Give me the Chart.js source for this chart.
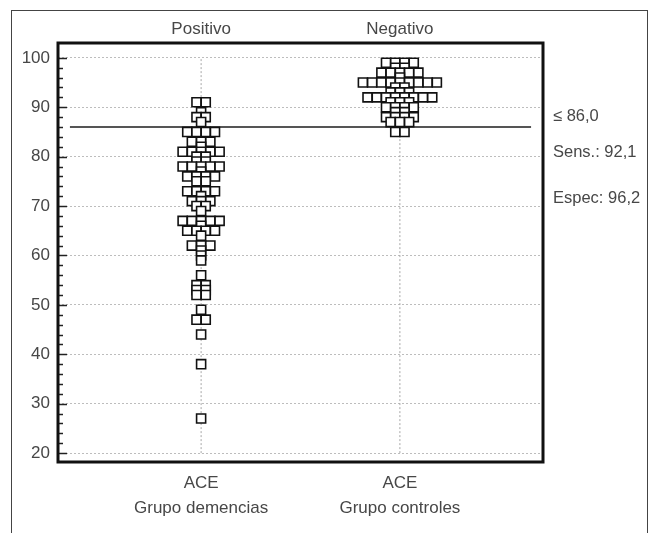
<!DOCTYPE html>
<html><head><meta charset="utf-8">
<script src="https://cdn.jsdelivr.net/npm/chart.js@4.4.0/dist/chart.umd.min.js"></script>
<style>
html,body{margin:0;padding:0;background:#fff;overflow:hidden;width:660px;height:533px;}
#frame{position:absolute;left:11px;top:10px;width:637px;height:600px;border:1px solid #444;box-sizing:border-box;}
canvas{position:absolute;left:0;top:0;}
</style></head><body>
<div id="frame"></div>
<canvas id="c" width="660" height="533"></canvas>
<script>
// ---- data ----
const groups = ['Positivo', 'Negativo'];
const groupLabels = [['ACE', 'Grupo demencias'], ['ACE', 'Grupo controles']];
const positivoValues = [91,91,89,88,88,87,85,85,85,85,83,83,83,82,81,81,81,81,81,80,80,79,79,
  78,78,78,78,78,77,76,76,76,76,75,75,73,73,73,73,72,71,71,71,70,70,69,67,67,67,67,67,66,
  65,65,65,65,64,62,62,62,61,60,59,56,54,54,53,53,52,52,49,47,47,44,38,27];
const negativoValues = [99,99,99,99,98,98,97,97,97,97,97,96,95,95,95,95,95,95,95,95,95,94,94,
  93,93,93,92,92,92,92,92,92,92,92,91,91,91,90,90,90,90,89,89,88,88,88,88,87,87,87,85,85];
const threshold = 86;
const annotations = ['\u2264 86,0', 'Sens.: 92,1', 'Espec: 96,2'];
const yTicks = [20, 30, 40, 50, 60, 70, 80, 90, 100];

// ---- layout helpers ----
const X_MIN = -0.72, X_MAX = 1.72;
const STEP = 0.0465; // horizontal spacing of stacked dots (category units)
function swarm(values, center) {
  const counts = new Map();
  values.forEach(v => counts.set(v, (counts.get(v) || 0) + 1));
  const pts = [];
  counts.forEach((n, v) => {
    for (let j = 0; j < n; j++) pts.push({ x: center + (j - (n - 1) / 2) * STEP, y: v });
  });
  return pts;
}
const FONT = '"Liberation Sans", Arial, sans-serif';
const TXT = '#474747';

const pointStyle = {
  type: 'scatter', pointStyle: 'rect', pointRadius: 6.4, pointBorderWidth: 1.6,
  pointBorderColor: '#111', pointBackgroundColor: '#fff', order: 0
};
const vline = (c) => ({
  type: 'line', data: [{ x: c, y: yTicks[0] }, { x: c, y: yTicks[yTicks.length - 1] }],
  borderColor: '#a8a8a8', borderWidth: 1, borderDash: [2, 2], pointRadius: 0, order: 3
});

const extras = {
  id: 'extras',
  afterDraw(chart) {
    const { ctx, chartArea: a, scales: { y } } = chart;
    ctx.save();
    ctx.strokeStyle = '#222'; ctx.lineWidth = 1.5;
    for (let v = yTicks[0]; v <= yTicks[yTicks.length - 1]; v += 2) {
      const py = Math.round(y.getPixelForValue(v)) + 0.5;
      const len = v % 10 === 0 ? 9 : 5;
      ctx.beginPath(); ctx.moveTo(a.left, py); ctx.lineTo(a.left + len, py); ctx.stroke();
    }
    ctx.lineWidth = 3; ctx.strokeStyle = '#111';
    ctx.strokeRect(a.left, a.top, a.right - a.left, a.bottom - a.top);
    ctx.fillStyle = TXT; ctx.font = '16.5px ' + FONT;
    ctx.textBaseline = 'middle'; ctx.textAlign = 'left';
    const ty = y.getPixelForValue(threshold);
    const offs = [-11, 25, 71];
    annotations.forEach((t, i) => ctx.fillText(t, a.right + 10, ty + offs[i]));
    ctx.restore();
  }
};

new Chart(document.getElementById('c'), {
  data: {
    datasets: [
      Object.assign({ data: swarm(positivoValues, 0) }, pointStyle),
      Object.assign({ data: swarm(negativoValues, 1) }, pointStyle),
      {
        type: 'line', data: [{ x: X_MIN + 0.06, y: threshold }, { x: X_MAX - 0.06, y: threshold }],
        borderColor: '#555', borderWidth: 2, pointRadius: 0, order: 1
      },
      vline(0), vline(1)
    ]
  },
  options: {
    responsive: false, animation: false, events: [],
    layout: { padding: { left: 0, right: 117, top: 0, bottom: 0 } },
    plugins: { legend: { display: false }, tooltip: { enabled: false } },
    scales: {
      x: {
        type: 'linear', position: 'bottom', min: X_MIN, max: X_MAX,
        afterBuildTicks: s => { s.ticks = [{ value: 0 }, { value: 1 }]; },
        afterFit: s => { s.height = 71; },
        ticks: { callback: v => groupLabels[v], color: TXT, font: { family: FONT, size: 17, lineHeight: 1.45 }, padding: 9, maxRotation: 0, autoSkip: false },
        grid: { display: false, drawTicks: false }, border: { display: false }
      },
      x2: {
        type: 'linear', position: 'top', min: X_MIN, max: X_MAX,
        afterBuildTicks: s => { s.ticks = [{ value: 0 }, { value: 1 }]; },
        afterFit: s => { s.height = 43; },
        ticks: { callback: v => groups[v], color: TXT, font: { family: FONT, size: 17, lineHeight: 1.2 }, padding: 3, maxRotation: 0, autoSkip: false },
        grid: { display: false, drawTicks: false }, border: { display: false }
      },
      y: {
        type: 'linear', min: 18.2, max: 103,
        afterBuildTicks: s => { s.ticks = yTicks.map(v => ({ value: v })); },
        afterFit: s => { s.width = 58; },
        ticks: { color: TXT, font: { family: FONT, size: 17 }, padding: 8 },
        grid: { color: '#bdbdbd', lineWidth: 1, drawTicks: false },
        border: { display: false, dash: [2, 2] }
      }
    }
  },
  plugins: [extras]
});
</script>
</body></html>
